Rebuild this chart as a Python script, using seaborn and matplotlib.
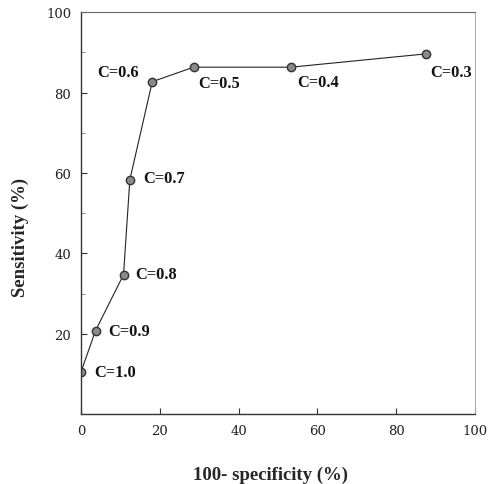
import pandas as pd
import matplotlib
matplotlib.use("Agg")
import matplotlib.pyplot as plt
import seaborn as sns

# ROC points
fpr = [0.0, 3.7, 10.8, 12.4, 18.1, 28.6, 53.3, 87.5]
sens = [10.5, 20.8, 34.7, 58.3, 82.7, 86.3, 86.3, 89.6]
cutoffs = ["C=1.0", "C=0.9", "C=0.8", "C=0.7", "C=0.6", "C=0.5", "C=0.4", "C=0.3"]

x_ticks = [0, 20, 40, 60, 80, 100]
y_ticks = [20, 40, 60, 80, 100]

sns.set_style("ticks")
plt.rcParams['font.family'] = ['Liberation Serif', 'DejaVu Serif']

df = pd.DataFrame({"fpr": fpr, "sens": sens, "label": cutoffs})

fig = plt.figure(figsize=(4.88, 4.85), dpi=100)
ax = fig.add_axes([0.166, 0.144, 0.807, 0.829])

sns.lineplot(data=df, x="fpr", y="sens", sort=False, ax=ax,
             color="#222222", linewidth=0.8, marker="o", markersize=6,
             markerfacecolor="#8a8a8a", markeredgecolor="#333333",
             markeredgewidth=1.0)

# label placement (pixel offsets, alignment)
offsets = {
    "C=1.0": (13, 0, "left"),
    "C=0.9": (13, 0, "left"),
    "C=0.8": (12, 1, "left"),
    "C=0.7": (13, 2, "left"),
    "C=0.6": (-13, 10, "right"),
    "C=0.5": (5, -16, "left"),
    "C=0.4": (6, -15, "left"),
    "C=0.3": (5, -18, "left"),
}
for _, row in df.iterrows():
    dx, dy, ha = offsets[row["label"]]
    ax.annotate(row["label"], (row["fpr"], row["sens"]), xytext=(dx, dy),
                textcoords="offset pixels", ha=ha, va="center",
                fontsize=11.8, fontweight="bold", color="#111111")

ax.set_xlim(0, 100)
ax.set_ylim(0, 100)
ax.set_xticks(x_ticks)
ax.set_yticks(y_ticks)
ax.set_yticks([10, 30, 50, 70, 90], minor=True)
ax.tick_params(axis="both", direction="in", length=4, width=0.8,
               colors="#333333", labelsize=9.5, labelcolor="#222222", pad=7)
ax.tick_params(axis="y", which="minor", direction="in", length=3, width=0.6,
               colors="#777777")
for lab in ax.get_xticklabels() + ax.get_yticklabels():
    lab.set_family("DejaVu Serif")

ax.set_xlabel("100- specificity (%)", fontsize=13.5, fontweight="bold", va="center")
ax.set_ylabel("Sensitivity (%)", fontsize=13.5, fontweight="bold", va="center")
ax.xaxis.set_label_coords(0.48, -0.149)
ax.yaxis.set_label_coords(-0.155, 0.443)

for side in ["left", "bottom"]:
    ax.spines[side].set_color("#333333")
    ax.spines[side].set_linewidth(1.0)
ax.spines["top"].set_color("#666666")
ax.spines["top"].set_linewidth(0.8)
ax.spines["right"].set_color("#aaaaaa")
ax.spines["right"].set_linewidth(0.7)
ax.spines["right"].set_linestyle((0, (1, 1)))

fig.savefig("out.png", dpi=100)
